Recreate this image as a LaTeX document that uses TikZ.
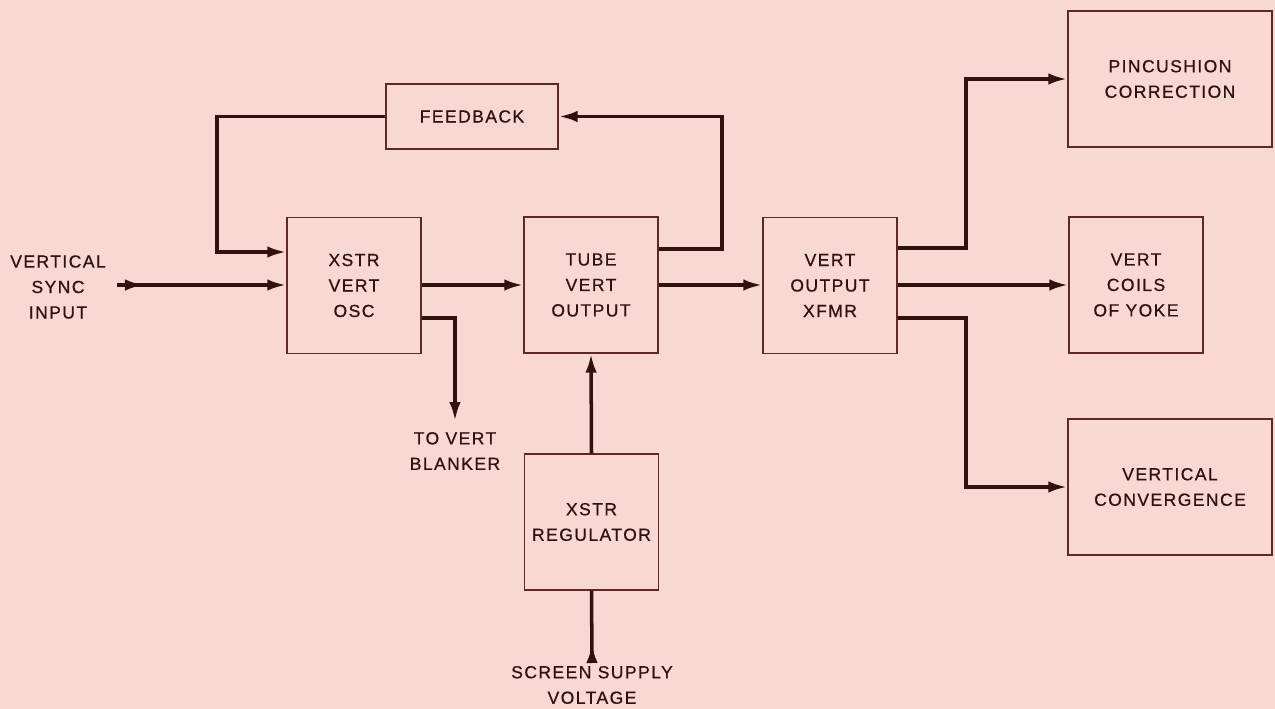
\documentclass[tikz,border=0pt]{standalone}
\usepackage{fontspec}
\setmainfont{Liberation Sans}[LetterSpace=8,FakeBold=0.6]
\usetikzlibrary{arrows.meta,decorations.markings}
\definecolor{bg}{HTML}{F8D8D0}
\definecolor{ink}{HTML}{32110D}
\definecolor{frame}{HTML}{5C2A22}
\tikzset{
  blk/.style={draw=frame, line width=0.8pt, align=center, text=ink,
    font=\fontsize{10}{14.5}\selectfont, inner sep=0pt,
    minimum width=2.68cm, minimum height=2.72cm},
  lbl/.style={align=center, text=ink, font=\fontsize{10}{14.5}\selectfont, inner sep=0pt},
  conn/.style={draw=ink, line width=2pt, line join=miter,
    -{Latex[length=3.8mm,width=2.3mm]}},
  plain/.style={draw=ink, line width=2pt, line join=miter},
  nearstart/.style={postaction={decorate,decoration={markings,
    mark=at position #1 with {\arrow{Latex[length=3.8mm,width=2.3mm]}}}}}
}
\begin{document}
\begin{tikzpicture}[x=0.02cm,y=-0.02cm]
\fill[bg] (0,0) rectangle (1275,709);
\useasboundingbox (0,0) rectangle (1275,709);

% blocks
\node[blk, minimum width=3.44cm, minimum height=1.3cm] (fb) at (472,116.5) {FEEDBACK};
\node[blk] (osc)  at (354,285.5) {XSTR\\VERT\\OSC};
\node[blk] (tube) at (591,285)   {TUBE\\VERT\\OUTPUT};
\node[blk] (xfmr) at (830,285.5) {VERT\\OUTPUT\\XFMR};
\node[blk] (yoke) at (1136,285)  {VERT\\COILS\\OF YOKE};
\node[blk, minimum width=4.08cm] (pin)  at (1170,79)  {PINCUSHION\\CORRECTION};
\node[blk, minimum width=4.08cm] (conv) at (1170,487) {VERTICAL\\CONVERGENCE};
\node[blk] (reg)  at (591.5,522) {XSTR\\REGULATOR};

% labels
\node[lbl] (sync) at (58,287) {VERTICAL\\SYNC\\INPUT};
\node[lbl] (blank) at (455,451) {TO VERT\\BLANKER};
\node[lbl] (supply) at (592,685) {SCREEN SUPPLY\\VOLTAGE};

% free ends
\coordinate (syncend) at (117,285);
\coordinate (blankend) at (455,421);
\coordinate (supend) at (592,660);

% main chain
\draw[conn, nearstart=0.54cm] (syncend) -- (osc.west |- syncend);
\draw[conn] (osc.east |- 0,285) -- (tube.west |- 0,285);
\draw[conn] (tube.east |- 0,285) -- (xfmr.west |- 0,285);
\draw[conn] (xfmr.east |- 0,285) -- (yoke.west |- 0,285);

% feedback loop
\draw[conn] (tube.east |- 0,249) -- (722,249) -- (722,116.5) -- (fb.east);
\draw[conn] (fb.west) -- (217,116.5) -- (217,252) -- (osc.west |- 0,252);

% to blanker
\draw[conn] (osc.east |- 0,318) -- (455,318) -- (blankend);

% xfmr branches
\draw[conn] (xfmr.east |- 0,248) -- (966,248) -- (966,79) -- (pin.west);
\draw[conn] (xfmr.east |- 0,318) -- (966,318) -- (966,487) -- (conv.west);

% regulator
\draw[conn] (reg.north) -- (tube.south);
\draw[plain, nearstart=0.32cm] (supend) -- (reg.south);
\end{tikzpicture}
\end{document}
